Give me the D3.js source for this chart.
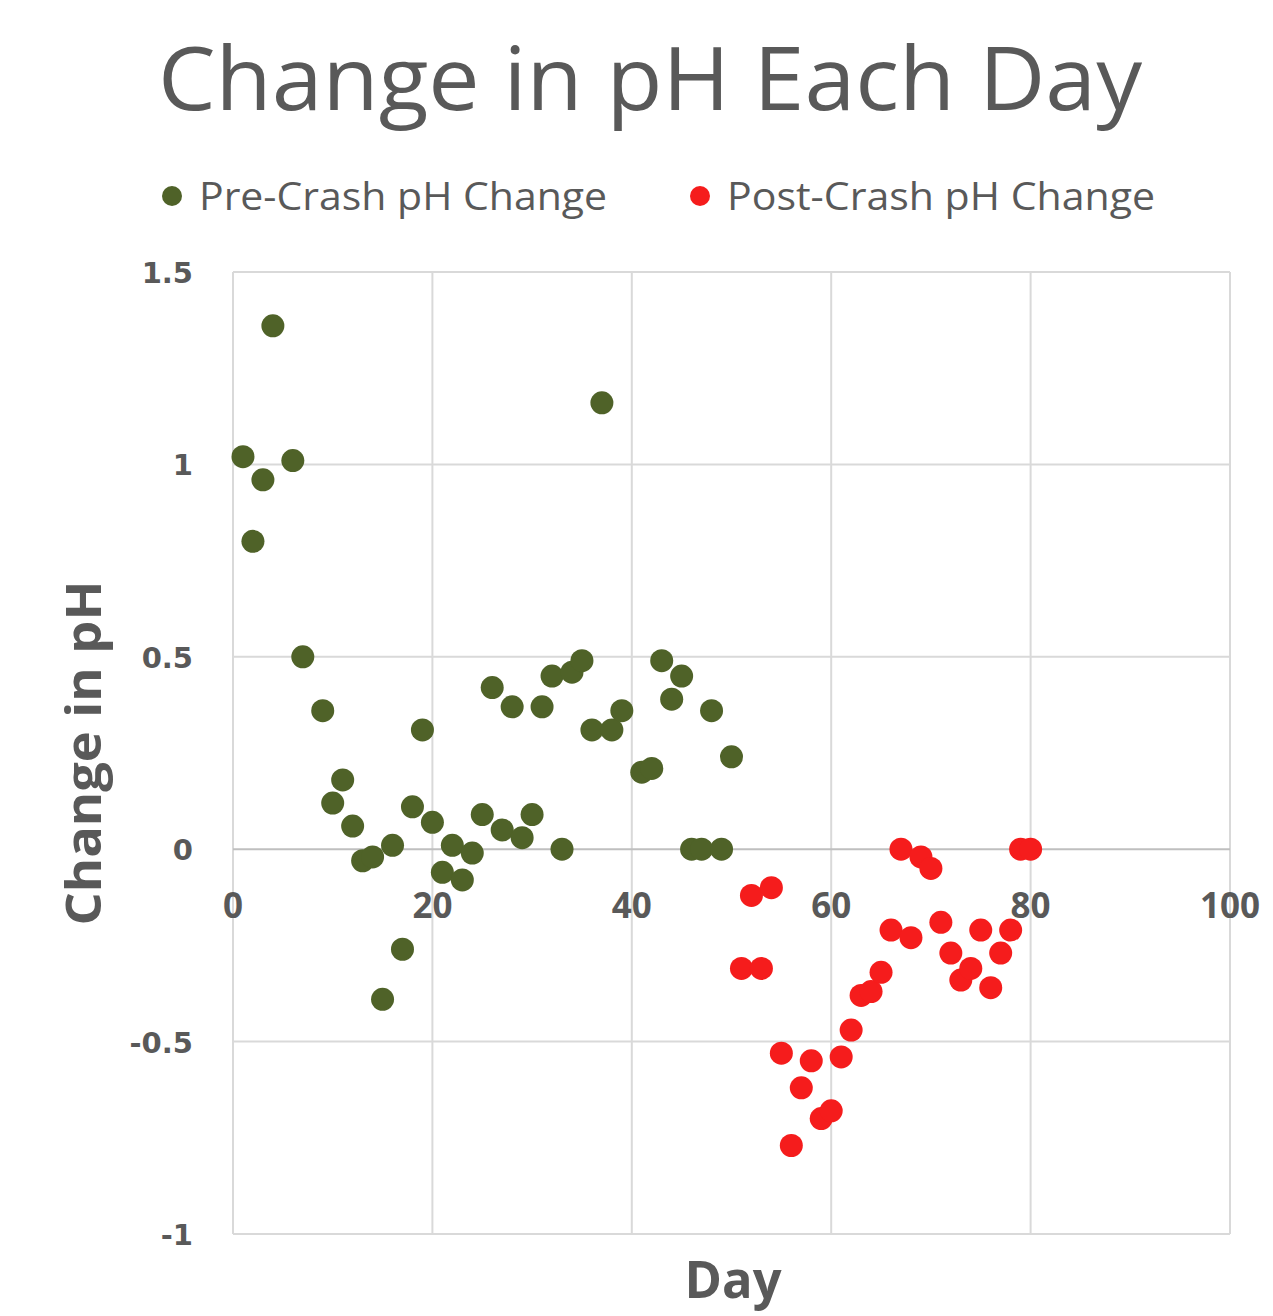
<!DOCTYPE html>
<html>
<head>
<meta charset="utf-8">
<script src="https://d3js.org/d3.v7.min.js"></script>
<style>
body { margin: 0; background: white; }
text { font-family: "Open Sans", "Liberation Sans", sans-serif; fill: #595959; }
</style>
</head>
<body>
<div id="chart"></div>
<script>
// values
var preDays = [1,2,3,4,6,7,9,10,11,12,13,14,15,16,17,18,19,20,21,22,23,24,25,26,27,28,29,30,
  31,32,33,34,35,36,37,38,39,41,42,43,44,45,46,47,48,49,50];
var preChange = [1.02,0.80,0.96,1.36,1.01,0.50,0.36,0.12,0.18,0.06,-0.03,-0.02,-0.39,0.01,-0.26,0.11,0.31,0.07,-0.06,0.01,-0.08,-0.01,0.09,0.42,0.05,0.37,0.03,0.09,
  0.37,0.45,0.00,0.46,0.49,0.31,1.16,0.31,0.36,0.20,0.21,0.49,0.39,0.45,0.00,0.00,0.36,0.00,0.24];
var postDays = [51,52,53,54,55,56,57,58,59,60,61,62,63,64,65,66,67,68,69,70,71,72,73,74,75,76,77,78,79,80];
var postChange = [-0.31,-0.12,-0.31,-0.10,-0.53,-0.77,-0.62,-0.55,-0.70,-0.68,-0.54,-0.47,-0.38,-0.37,-0.32,-0.21,0.00,-0.23,-0.02,-0.05,
  -0.19,-0.27,-0.34,-0.31,-0.21,-0.36,-0.27,-0.21,0.00,0.00];
var xTicks = [0,20,40,60,80,100];
var yTicks = [-1,-0.5,0,0.5,1,1.5];
var seriesNames = ["Pre-Crash pH Change", "Post-Crash pH Change"];
var seriesColors = ["#4f6228", "#f51c1c"];

var W = 1273, H = 1316;
var svg = d3.select("#chart").append("svg")
  .attr("width", W)
  .attr("height", H);

var x = d3.scaleLinear().domain([0, 100]).range([233, 1230]);
var y = d3.scaleLinear().domain([-1, 1.5]).range([1234, 272]);

// gridlines
svg.append("g").selectAll("line").data(xTicks).enter().append("line")
  .attr("x1", function(d) { return x(d); })
  .attr("x2", function(d) { return x(d); })
  .attr("y1", y(1.5)).attr("y2", y(-1))
  .attr("stroke", "#d9d9d9").attr("stroke-width", 2);
svg.append("g").selectAll("line").data(yTicks).enter().append("line")
  .attr("x1", x(0)).attr("x2", x(100))
  .attr("y1", function(d) { return y(d); })
  .attr("y2", function(d) { return y(d); })
  .attr("stroke", function(d) { return d === 0 ? "#bfbfbf" : "#d9d9d9"; })
  .attr("stroke-width", 2);

// tick labels
svg.append("g").selectAll("text").data(yTicks).enter().append("text")
  .attr("x", 193)
  .attr("y", function(d) { return y(d) + 11; })
  .attr("text-anchor", "end")
  .style("font-family", "'DejaVu Sans', sans-serif")
  .style("font-size", "29px").style("font-weight", "bold")
  .text(function(d) { return d; });
svg.append("g").selectAll("text").data(xTicks).enter().append("text")
  .attr("x", function(d) { return x(d); })
  .attr("y", 918)
  .attr("text-anchor", "middle")
  .style("font-size", "35px").style("font-weight", "bold")
  .text(function(d) { return d; });

// points
svg.append("g").selectAll("circle").data(preDays).enter().append("circle")
  .attr("cx", function(d) { return x(d); })
  .attr("cy", function(d, i) { return y(preChange[i]); })
  .attr("r", 11.5)
  .attr("fill", seriesColors[0]);
svg.append("g").selectAll("circle").data(postDays).enter().append("circle")
  .attr("cx", function(d) { return x(d); })
  .attr("cy", function(d, i) { return y(postChange[i]); })
  .attr("r", 11.5)
  .attr("fill", seriesColors[1]);

// title
svg.append("text")
  .attr("x", 650).attr("y", 110)
  .attr("text-anchor", "middle")
  .attr("textLength", 984).attr("lengthAdjust", "spacingAndGlyphs")
  .style("font-size", "88px")
  .text("Change in pH Each Day");

// legend
var legX = [172, 700], legW = [408, 428];
seriesNames.forEach(function(name, i) {
  svg.append("circle")
    .attr("cx", legX[i]).attr("cy", 196).attr("r", 10)
    .attr("fill", seriesColors[i]);
  svg.append("text")
    .attr("x", legX[i] + 27).attr("y", 210)
    .attr("textLength", legW[i]).attr("lengthAdjust", "spacingAndGlyphs")
    .style("font-size", "38px")
    .text(name);
});

// axis titles
svg.append("text")
  .attr("x", 733).attr("y", 1298)
  .attr("text-anchor", "middle")
  .attr("textLength", 97).attr("lengthAdjust", "spacingAndGlyphs")
  .style("font-size", "52px").style("font-weight", "bold")
  .text("Day");
svg.append("text")
  .attr("transform", "translate(101,753) rotate(-90)")
  .attr("text-anchor", "middle")
  .attr("textLength", 345).attr("lengthAdjust", "spacingAndGlyphs")
  .style("font-size", "48px").style("font-weight", "bold")
  .text("Change in pH");
</script>
</body>
</html>
